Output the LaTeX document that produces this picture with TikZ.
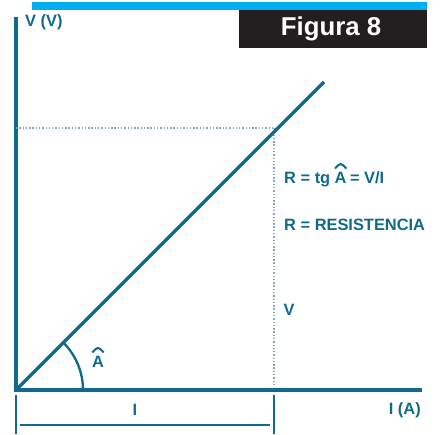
\documentclass[tikz,border=0pt]{standalone}
\usepackage{fontspec}
\setmainfont{Liberation Sans}
\usepackage{tikz}
\usetikzlibrary{positioning,calc}
\usepackage{xcolor}
\definecolor{AxisTeal}{HTML}{0F6A8C}
\definecolor{DotTeal}{HTML}{7FA9C4}
\definecolor{BarCyan}{HTML}{00AEEF}
\definecolor{BoxBlack}{HTML}{231F20}

\begin{document}
\begin{tikzpicture}[x=0.03cm,y=0.03cm,
  lbl/.style={font=\bfseries\fontsize{14}{16}\selectfont,text=AxisTeal,inner sep=0pt},
  axisline/.style={AxisTeal,line width=2.8pt},
  guide/.style={DotTeal,line width=1.4pt,dash pattern=on 1.2pt off 1.6pt},
  hat/.style={AxisTeal,line width=1.7pt}]
\useasboundingbox (0,0) rectangle (443,434);
% header
\fill[BarCyan] (32,424) rectangle (427,432);
\fill[BoxBlack] (239,386) rectangle (427,424);
\node[font=\bfseries\fontsize{22}{24}\selectfont,text=white] (title) at (331,405) {Figura 8};
% axes
\coordinate (O) at (16,44);
\coordinate (P) at (274,306);
\draw[axisline] (16,417) -- (O) -- (422,44);
\node[lbl,anchor=west] (vlab) at (25,412) {V (V)};
\node[lbl,anchor=east] (ilab) at (421,24) {I (A)};
% guides
\draw[guide] (16,306) -- (P);
\draw[guide] (P) -- (274,47);
% line and angle
\draw[axisline] (O) -- (324,352);
\draw[AxisTeal,line width=2pt] (83,44) arc[start angle=0,end angle=45,radius=67];
\node[lbl,anchor=base] (alab) at (98,67) {A};
\draw[hat] ($(alab.north west)+(0.5,3)$) .. controls ($(alab.north)+(0,9)$) .. ($(alab.north east)+(-0.5,3)$);
\node[lbl] (vseg) at (289,124) {V};
% formulas
\node[lbl,anchor=base west] (form) at (284,251) {R = tg};
\node[lbl,base right=4 of form] (fa) {A};
\node[lbl,base right=3 of fa] (fb) {= V/I};
\draw[hat] ($(fa.north west)+(0.5,3)$) .. controls ($(fa.north)+(0,9)$) .. ($(fa.north east)+(-0.5,3)$);
\node[lbl,anchor=base west] (resist) at (284,204) {R = RESISTENCIA};
% I bracket
\foreach \x in {16,274}
  \draw[AxisTeal,line width=2.4pt] (\x,39) -- (\x,0);
\draw[AxisTeal,line width=2.4pt] (20,9) -- (270,9);
\node[lbl] (iseg) at (135,24) {I};
\end{tikzpicture}
\end{document}
